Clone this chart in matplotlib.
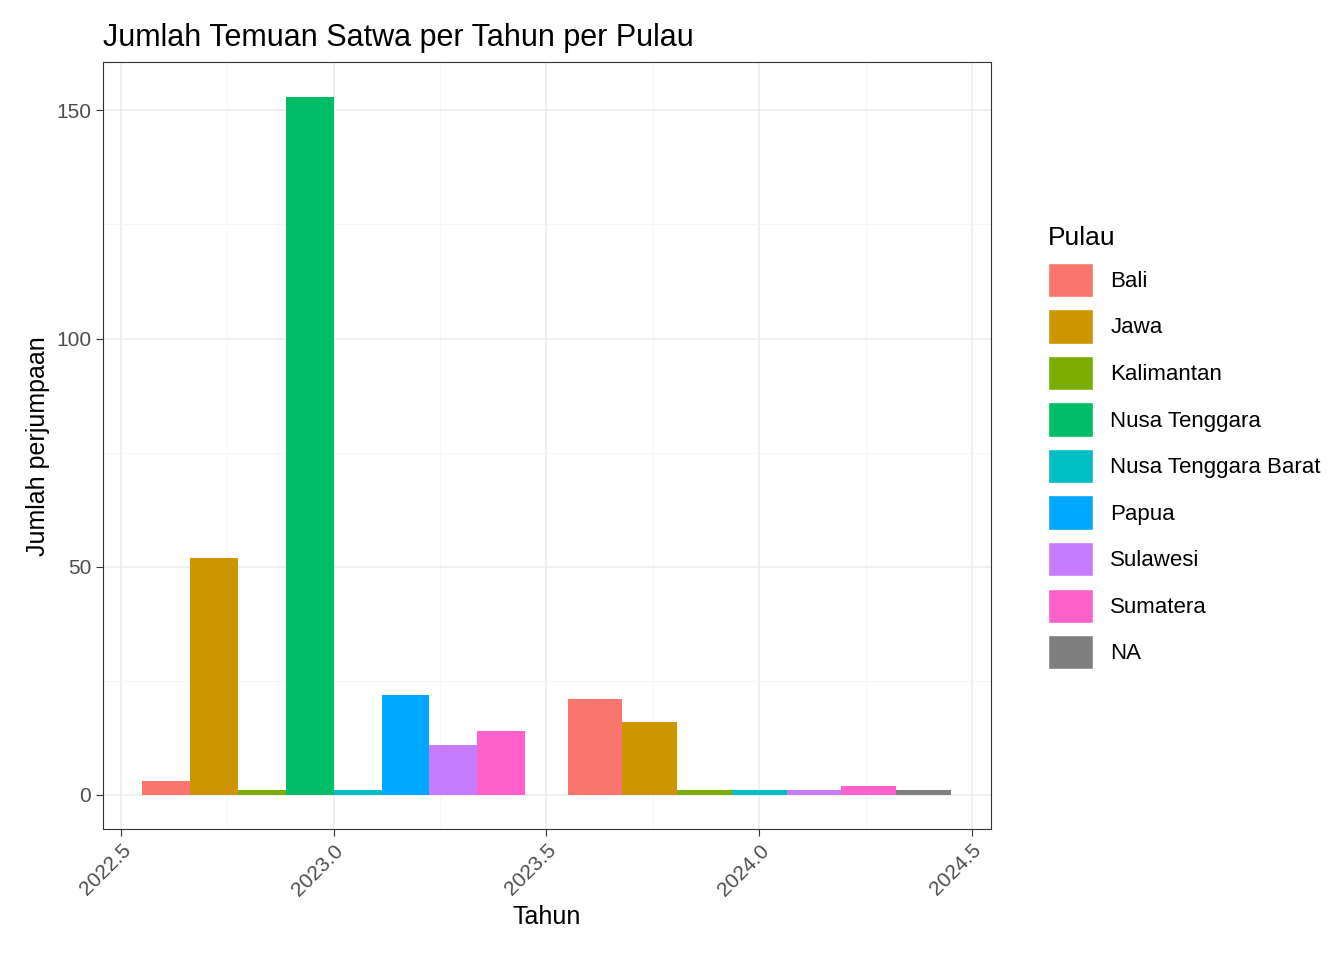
import matplotlib
matplotlib.use('Agg')
import matplotlib.pyplot as plt
from matplotlib.patches import Patch

plt.rcParams['font.family'] = ['Liberation Sans', 'DejaVu Sans']

pulau = ['Bali', 'Jawa', 'Kalimantan', 'Nusa Tenggara', 'Nusa Tenggara Barat',
         'Papua', 'Sulawesi', 'Sumatera', 'NA']
colors = ['#F8766D', '#CD9600', '#7CAE00', '#00BE67', '#00BFC4',
          '#00A9FF', '#C77CFF', '#FF61CC', '#7F7F7F']

pulau_2023 = ['Bali', 'Jawa', 'Kalimantan', 'Nusa Tenggara', 'Nusa Tenggara Barat',
              'Papua', 'Sulawesi', 'Sumatera']
jumlah_2023 = [3, 52, 1, 153, 1, 22, 11, 14]
pulau_2024 = ['Bali', 'Jawa', 'Kalimantan', 'Nusa Tenggara Barat', 'Sulawesi',
              'Sumatera', 'NA']
jumlah_2024 = [21, 16, 1, 1, 1, 2, 1]

fig = plt.figure(figsize=(13.44, 9.6), dpi=100)
ax = fig.add_axes([0.0766, 0.1365, 0.6608, 0.7985])

for year, names, vals in [(2023, pulau_2023, jumlah_2023), (2024, pulau_2024, jumlah_2024)]:
    w = 0.9 / len(names)
    start = year - 0.45
    for i, (n, v) in enumerate(zip(names, vals)):
        ax.bar(start + w * (i + 0.5), v, width=w, color=colors[pulau.index(n)], zorder=3)

ax.set_xlim(2022.4575, 2024.545)
ax.set_ylim(-7.45, 160.5)
ax.set_xticks([2022.5, 2023.0, 2023.5, 2024.0, 2024.5])
ax.set_xticklabels(['2022.5', '2023.0', '2023.5', '2024.0', '2024.5'], rotation=45,
                   ha='right', rotation_mode='anchor')
ax.set_xticks([2022.75, 2023.25, 2023.75, 2024.25], minor=True)
ax.set_yticks([0, 50, 100, 150])
ax.set_yticks([25, 75, 125], minor=True)
ax.grid(True, which='major', color='#EBEBEB', linewidth=1.1, zorder=0)
ax.grid(True, which='minor', color='#F5F5F5', linewidth=0.6, zorder=0)
ax.tick_params(which='minor', length=0)
ax.tick_params(which='major', labelsize=15, labelcolor='#4D4D4D', length=5, color='#333333')
for s in ax.spines.values():
    s.set_color('#333333')

ax.set_xlabel('Tahun', fontsize=18)
ax.set_ylabel('Jumlah perjumpaan', fontsize=18)
ax.set_title('Jumlah Temuan Satwa per Tahun per Pulau', fontsize=22, loc='left', x=0.0, pad=12)

handles = [Patch(facecolor=c, edgecolor='white', label=n) for n, c in zip(pulau, colors)]
leg = fig.legend(handles=handles, loc='upper left', bbox_to_anchor=(0.765, 0.785),
                 title='Pulau', fontsize=16, title_fontsize=19, frameon=False,
                 handlelength=2.0, handleheight=2.0, labelspacing=0.55, handletextpad=0.8)
leg._legend_box.align = 'left'

fig.savefig('out.png', dpi=100)
